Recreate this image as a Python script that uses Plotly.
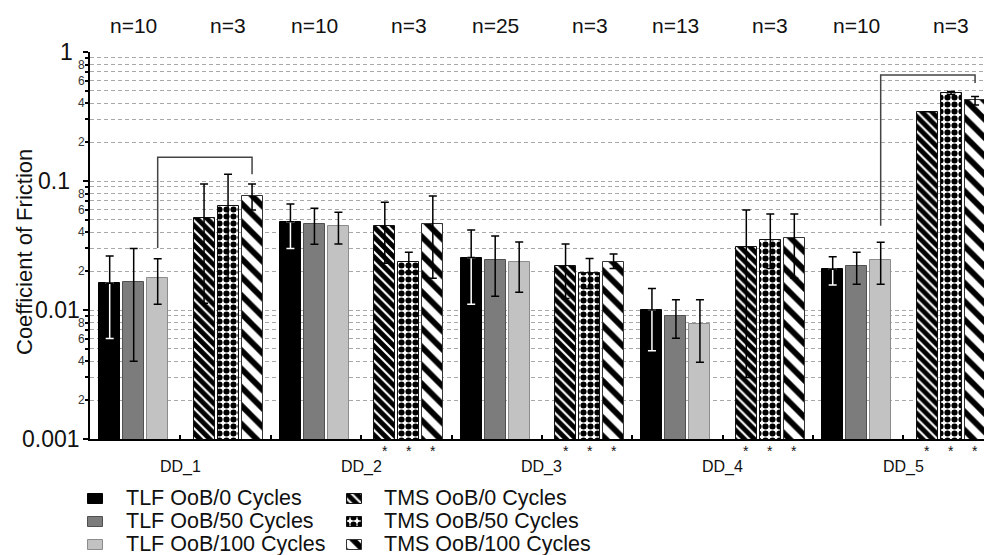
import math
import plotly.graph_objects as go

W, H = 984, 555
FONT = "Liberation Sans, Arial, sans-serif"

# ---- data -------------------------------------------------------------
groups = ["DD_1", "DD_2", "DD_3", "DD_4", "DD_5"]
n_tlf = ["n=10", "n=10", "n=25", "n=13", "n=10"]
n_tms = ["n=3", "n=3", "n=3", "n=3", "n=3"]

series_names = [
    "TLF OoB/0 Cycles", "TLF OoB/50 Cycles", "TLF OoB/100 Cycles",
    "TMS OoB/0 Cycles", "TMS OoB/50 Cycles", "TMS OoB/100 Cycles",
]

tlf0 = [0.0161, 0.0484, 0.0255, 0.0100, 0.0207]
tlf0_hi = [0.0262, 0.0664, 0.0417, 0.0147, 0.0259]
tlf0_lo = [0.0060, 0.0300, 0.0111, 0.00484, 0.0156]

tlf50 = [0.0166, 0.0464, 0.0244, 0.00898, 0.0219]
tlf50_hi = [0.0300, 0.0614, 0.0375, 0.0120, 0.0280]
tlf50_lo = [0.0040, 0.0323, 0.0128, 0.00604, 0.0158]

tlf100 = [0.0178, 0.0448, 0.0237, 0.00778, 0.0244]
tlf100_hi = [0.0250, 0.0572, 0.0337, 0.0120, 0.0335]
tlf100_lo = [0.0111, 0.0325, 0.0137, 0.00393, 0.0158]

tms0 = [0.052, 0.0450, 0.0219, 0.0310, 0.344]
tms0_hi = [0.0948, 0.0684, 0.0325, 0.0596, 0.344]
tms0_lo = [0.0113, 0.0230, 0.0123, 0.0030, 0.344]

tms50 = [0.064, 0.0234, 0.0192, 0.0349, 0.480]
tms50_hi = [0.113, 0.0280, 0.0251, 0.0555, 0.495]
tms50_lo = [0.0176, 0.0196, 0.0147, 0.0210, 0.468]

tms100 = [0.0769, 0.0464, 0.0237, 0.0364, 0.425]
tms100_hi = [0.0948, 0.0765, 0.0272, 0.0555, 0.451]
tms100_lo = [0.0596, 0.0176, 0.0210, 0.0176, 0.388]

values = [tlf0, tlf50, tlf100, tms0, tms50, tms100]
highs = [tlf0_hi, tlf50_hi, tlf100_hi, tms0_hi, tms50_hi, tms100_hi]
lows = [tlf0_lo, tlf50_lo, tlf100_lo, tms0_lo, tms50_lo, tms100_lo]

# ---- geometry helpers ---------------------------------------------------
X0_PX, X1_PX = 90, 984          # plot area left / right
Y0_PX, Y1_PX = 52, 439          # plot area top (1.0) / bottom (0.001)
SLOT_PX = 90.375                # one TLF or TMS cluster
X_RANGE = [-0.5, -0.5 + (X1_PX - X0_PX) / SLOT_PX]
PITCH = 24 / SLOT_PX
BAR_W = 21 / SLOT_PX
SHIFT = [-1.5 / SLOT_PX, 2.5 / SLOT_PX]   # TLF cluster, TMS cluster


def px(x):
    return x / W


def py(y):
    return (H - y) / H


def val_y(v):
    """paper y of a value on the log axis"""
    frac = (math.log10(v) + 3) / 3
    return py(Y1_PX) + frac * (py(Y0_PX) - py(Y1_PX))


def bar_x(series_idx, k):
    fam = series_idx // 3          # 0 = TLF, 1 = TMS
    j = series_idx % 3
    return 2 * k + fam + SHIFT[fam] + (j - 1) * PITCH


# ---- styles ---------------------------------------------------------------
fills = ["#000000", "#7c7c7c", "#c2c2c2", "white", "white", "white"]
lines = ["#000000", "#505050", "#8c8c8c", "#111111", "#111111", "#333333"]
patterns = [
    None, None, None,
    dict(shape="\\", fgcolor="black", bgcolor="white", fgopacity=1,
         size=7, solidity=0.7),
    dict(shape=".", fgcolor="black", bgcolor="white", fgopacity=1,
         size=7, solidity=0.6),
    dict(shape="\\", fgcolor="black", bgcolor="white", fgopacity=1,
         size=13, solidity=0.45),
]

fig = go.Figure()

# bars
for s in range(6):
    xs = [bar_x(s, k) for k in range(5)]
    marker = dict(color=fills[s], line=dict(color=lines[s], width=1))
    if patterns[s]:
        marker["pattern"] = patterns[s]
    fig.add_trace(go.Bar(
        x=xs, y=values[s], width=[BAR_W] * 5, marker=marker,
        name=series_names[s], showlegend=False, hoverinfo="skip",
    ))

# error bars (white lower whisker inside the black bars)
EB = dict(type="data", symmetric=False, thickness=1.5, width=4)
for s in range(6):
    xs = [bar_x(s, k) for k in range(5)]
    up = [h - v for h, v in zip(highs[s], values[s])]
    dn = [v - l for v, l in zip(values[s], lows[s])]
    if s == 0:
        fig.add_trace(go.Scatter(
            x=xs, y=values[s], mode="markers", marker=dict(opacity=0),
            error_y=dict(EB, array=[0] * 5, arrayminus=dn, color="white"),
            showlegend=False, hoverinfo="skip"))
        fig.add_trace(go.Scatter(
            x=xs, y=values[s], mode="markers", marker=dict(opacity=0),
            error_y=dict(EB, array=up, arrayminus=[0] * 5, color="black"),
            showlegend=False, hoverinfo="skip"))
    else:
        fig.add_trace(go.Scatter(
            x=xs, y=values[s], mode="markers", marker=dict(opacity=0),
            error_y=dict(EB, array=up, arrayminus=dn, color="black"),
            showlegend=False, hoverinfo="skip"))

# legend keys drawn on an auxiliary pixel-unit axis pair
leg_rows = [494, 517, 540]
leg_cols = [(95.5, 125), (354, 383)]
for s in range(6):
    col, row = divmod(s, 3)
    sx, tx = leg_cols[col]
    marker = dict(color=fills[s], line=dict(color=lines[s], width=1))
    if patterns[s]:
        marker["pattern"] = patterns[s]
    fig.add_trace(go.Bar(
        x=[sx], y=[10], base=[leg_rows[row]], width=[15], marker=marker,
        xaxis="x2", yaxis="y2", showlegend=False, hoverinfo="skip"))

annotations = []

# legend labels
for s in range(6):
    col, row = divmod(s, 3)
    sx, tx = leg_cols[col]
    annotations.append(dict(
        text=series_names[s], x=px(tx), y=py(leg_rows[row] + 4), xref="paper", yref="paper",
        xanchor="left", yanchor="middle", showarrow=False, borderpad=0,
        font=dict(size=21.5, color="#111")))

# n= labels above each cluster
for k in range(5):
    for fam, labels in enumerate([n_tlf, n_tms]):
        annotations.append(dict(
            text=labels[k], x=2 * k + fam + SHIFT[fam], y=py(26),
            xref="x", yref="paper", xanchor="center", yanchor="middle",
            showarrow=False, font=dict(size=21, color="#111")))

# group labels
for k, g in enumerate(groups):
    annotations.append(dict(
        text=g, x=2 * k + 0.5, y=py(467), xref="x", yref="paper",
        xanchor="center", yanchor="middle", showarrow=False,
        font=dict(size=16, color="#111")))

# significance markers under TMS bars (DD_2 .. DD_5)
for k in range(1, 5):
    for s in range(3, 6):
        annotations.append(dict(
            text="*", x=bar_x(s, k), y=py(451), xref="x", yref="paper",
            xanchor="center", yanchor="middle", showarrow=False,
            font=dict(size=14, color="#111")))

# y tick labels
major_labels = [("1", 1.0, 75), ("0.1", 0.1, 72), ("0.01", 0.01, 82), ("0.001", 0.001, 82)]
for txt, v, right in major_labels:
    annotations.append(dict(
        text=txt, x=px(right), y=val_y(v), xref="paper", yref="paper",
        xanchor="right", yanchor="middle", showarrow=False,
        font=dict(size=23, color="#111")))
for dec in [0.001, 0.01, 0.1]:
    for m in [2, 4, 6, 8]:
        annotations.append(dict(
            text=str(m), x=px(87), y=val_y(m * dec), xref="paper", yref="paper",
            xanchor="right", yanchor="middle", showarrow=False,
            font=dict(size=12, color="#333")))

annotations.append(dict(
    text="Coefficient of Friction", x=px(24), y=py(252), xref="paper", yref="paper",
    textangle=-90, xanchor="center", yanchor="middle", showarrow=False,
    font=dict(size=22, color="#111")))

# comparison brackets
BR = dict(color="#444", width=1.5)
shapes = []


def bracket(xa, xb, y_top, y_a, y_b):
    shapes.append(dict(type="path", xref="x", yref="paper", line=BR,
                       path=f"M{xa},{val_y(y_a)} L{xa},{val_y(y_top)} "
                            f"L{xb},{val_y(y_top)} L{xb},{val_y(y_b)}"))


bracket(bar_x(2, 0), bar_x(5, 0), 0.153, 0.0303, 0.113)
bracket(bar_x(2, 4), bar_x(5, 4), 0.663, 0.045, 0.575)

minor_vals = [m * d for d in [0.001, 0.01, 0.1] for m in range(2, 10)]

fig.update_layout(
    width=W, height=H, margin=dict(l=0, r=0, t=0, b=0),
    paper_bgcolor="white", plot_bgcolor="white",
    barmode="overlay", bargap=0,
    font=dict(family=FONT, color="#111"),
    showlegend=False,
    annotations=annotations, shapes=shapes,
    xaxis=dict(
        domain=[px(X0_PX), 1], range=X_RANGE, showgrid=False, zeroline=False,
        showline=True, linecolor="black", linewidth=2,
        tickvals=[i + 0.5 for i in range(9)], ticks="inside", ticklen=4,
        tickwidth=2, tickcolor="black", showticklabels=False,
        anchor="y"),
    yaxis=dict(
        type="log", domain=[py(Y1_PX), py(Y0_PX)], range=[-3, 0],
        showline=True, linecolor="black", linewidth=2, zeroline=False,
        tickvals=[0.001, 0.01, 0.1, 1], ticks="outside", ticklen=5,
        tickwidth=2, tickcolor="black", showticklabels=False,
        showgrid=True, gridcolor="#a8a8a8", gridwidth=1, griddash="4px,3px",
        minor=dict(tickvals=minor_vals, ticks="outside", ticklen=3,
                   tickwidth=2, tickcolor="black", showgrid=True,
                   gridcolor="#a8a8a8", gridwidth=1, griddash="4px,3px"),
        anchor="x"),
    xaxis2=dict(domain=[0, 1], range=[0, W], visible=False, anchor="y2"),
    yaxis2=dict(domain=[0, py(444)], range=[H, 444], visible=False, anchor="x2"),
)

fig.write_html("out.html")
